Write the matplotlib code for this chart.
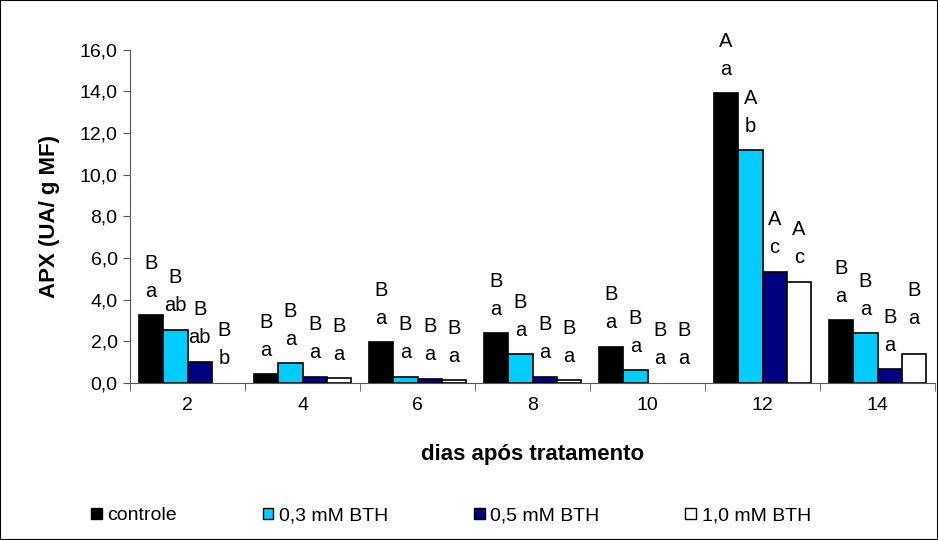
import matplotlib.pyplot as plt
import numpy as np
from matplotlib.patches import Rectangle, Patch

plt.rcParams['font.family'] = ['Liberation Sans', 'DejaVu Sans']

dias = ['2', '4', '6', '8', '10', '12', '14']
series = ['controle', '0,3 mM BTH', '0,5 mM BTH', '1,0 mM BTH']
controle = [3.26, 0.42, 1.95, 2.38, 1.74, 13.9, 3.02]
bth_03 = [2.55, 0.94, 0.30, 1.37, 0.62, 11.17, 2.38]
bth_05 = [1.02, 0.30, 0.20, 0.30, 0.0, 5.34, 0.66]
bth_10 = [0.0, 0.22, 0.13, 0.13, 0.0, 4.86, 1.38]

# letras de significancia (maiuscula / minuscula)
upper = [['B', 'B', 'B', 'B', 'B', 'A', 'B'],
         ['B', 'B', 'B', 'B', 'B', 'A', 'B'],
         ['B', 'B', 'B', 'B', 'B', 'A', 'B'],
         ['B', 'B', 'B', 'B', 'B', 'A', 'B']]
lower = [['a', 'a', 'a', 'a', 'a', 'a', 'a'],
         ['ab', 'a', 'a', 'a', 'a', 'b', 'a'],
         ['ab', 'a', 'a', 'a', 'a', 'c', 'a'],
         ['b', 'a', 'a', 'a', 'a', 'c', 'a']]

cores = ['black', '#00CCFF', '#000080', 'white']
valores = [controle, bth_03, bth_05, bth_10]

fig = plt.figure(figsize=(9.38, 5.4), dpi=100)
ax = fig.add_axes([130 / 938, 1 - 383 / 540, 805 / 938, (383 - 49.7) / 540])

x = np.arange(len(dias))
w = 0.211
fs = 14
for i, (vals, cor) in enumerate(zip(valores, cores)):
    pos = x + (i - 1.5) * w
    lw = [0 if v == 0 else 1.2 for v in vals]
    ax.bar(pos, vals, w, color=cor, edgecolor='black', linewidth=lw)
    for j, (px, v) in enumerate(zip(pos, vals)):
        extra = 12 if (i == 3 and j == 6) else 0
        ax.annotate(lower[i][j], (px, v), xytext=(0, 24 + extra), textcoords='offset pixels',
                    ha='center', va='center', fontsize=14.5)
        ax.annotate(upper[i][j], (px, v), xytext=(0, 52 + extra), textcoords='offset pixels',
                    ha='center', va='center', fontsize=14.5, annotation_clip=False)

ax.set_xlim(-0.5, len(dias) - 0.5)
ax.set_ylim(0, 16)
ax.set_yticks(np.arange(0, 17, 2))
ax.set_yticklabels([f'{v:.1f}'.replace('.', ',') for v in np.arange(0, 17, 2)], fontsize=fs)
ax.set_xticks(x)
ax.set_xticklabels(dias, fontsize=fs)
ax.set_xticks(np.arange(-0.5, len(dias), 1), minor=True)
ax.tick_params(axis='x', which='major', length=0, pad=10)
ax.tick_params(axis='x', which='minor', length=6, direction='out', color='#555555')
ax.tick_params(axis='y', length=5, direction='out', color='#555555', pad=4)
for s in ['top', 'right']:
    ax.spines[s].set_visible(False)
for s in ['left', 'bottom']:
    ax.spines[s].set_color('#555555')

ax.set_ylabel('APX (UA/ g MF)', fontsize=16, fontweight='bold')
ax.yaxis.set_label_coords(-0.087, 0.5)
ax.set_xlabel('dias após tratamento', fontsize=16, fontweight='bold')
ax.xaxis.set_label_coords(0.5, -0.183)

handles = [Patch(facecolor=c, edgecolor='black', linewidth=1.0) for c in cores]
fig.legend(handles, series, loc='center', bbox_to_anchor=(451 / 938, 1 - 516 / 540), ncol=4,
           frameon=False, fontsize=fs, handlelength=0.55, handleheight=0.55,
           handletextpad=0.3, columnspacing=4.4)

fig.patches.append(Rectangle((0, 0), 1, 1, transform=fig.transFigure, fill=False,
                             edgecolor='black', linewidth=1.5))

fig.savefig('out.png', dpi=100)
